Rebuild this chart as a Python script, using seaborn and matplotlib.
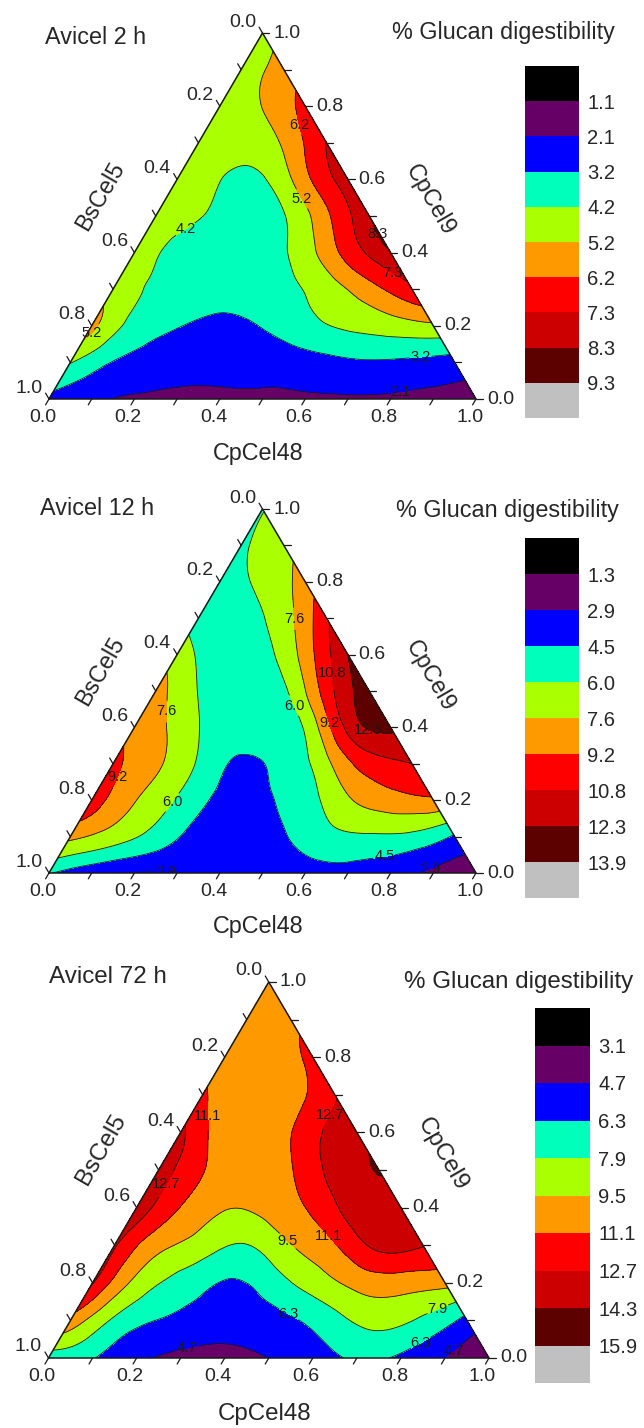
import numpy as np
import matplotlib
matplotlib.use("Agg")
import matplotlib.pyplot as plt
import matplotlib.tri as mtri
from matplotlib.colors import ListedColormap
import seaborn as sns

# --- DATA: % GLUCAN DIGESTIBILITY READ ON A 0.1 TERNARY GRID --- #
# one row per CpCel9 fraction (0.0 at the bottom edge ... 1.0 at the apex),
# inside a row the CpCel48 fraction runs 0.0, 0.1, ... ; BsCel5 = 1 - CpCel48 - CpCel9
avicel_2h = [
    [2.9, 2.3, 2.0, 1.85, 1.9, 1.95, 2.0, 2.0, 1.95, 1.8, 1.5],
    [4.25, 3.15, 2.7, 2.5, 2.5, 2.6, 2.9, 3.1, 3.0, 2.8],
    [5.5, 3.85, 3.25, 3.0, 3.25, 3.9, 4.35, 4.7, 5.0],
    [4.75, 4.05, 3.6, 3.5, 3.9, 4.7, 5.8, 7.0],
    [4.5, 4.0, 3.6, 3.75, 4.75, 6.6, 8.22],
    [4.6, 4.25, 3.8, 4.15, 6.0, 8.2],
    [4.6, 4.22, 4.12, 5.9, 7.9],
    [4.75, 4.6, 5.35, 7.35],
    [4.8, 5.22, 6.6],
    [4.8, 5.6],
    [4.9],
]

avicel_12h = [
    [4.6, 3.5, 2.85, 2.88, 3.3, 3.8, 3.9, 3.95, 3.5, 2.6, 2.3],
    [8.0, 6.8, 5.4, 3.9, 3.6, 4.4, 5.5, 5.8, 5.6, 4.3],
    [10.0, 7.7, 5.85, 4.2, 4.3, 5.3, 7.4, 8.5, 8.9],
    [9.6, 7.9, 5.8, 4.3, 4.9, 7.2, 10.0, 10.8],
    [8.8, 7.1, 5.3, 5.1, 6.2, 11.2, 12.6],
    [8.3, 5.95, 5.0, 5.75, 10.0, 12.9],
    [6.8, 5.3, 5.5, 8.3, 12.3],
    [5.6, 5.5, 6.9, 10.5],
    [5.65, 6.3, 8.4],
    [5.8, 7.1],
    [5.9],
]

avicel_72h = [
    [7.0, 6.4, 5.0, 4.3, 4.1, 4.72, 5.6, 6.5, 6.0, 4.65, 3.5],
    [10.5, 7.6, 6.25, 5.6, 5.5, 6.1, 7.4, 8.4, 7.6, 5.8],
    [12.8, 9.0, 7.3, 6.2, 7.0, 8.6, 10.0, 10.3, 10.0],
    [12.9, 10.0, 8.7, 7.85, 9.45, 11.0, 13.1, 12.8],
    [13.8, 11.05, 9.6, 10.0, 11.4, 13.6, 14.1],
    [13.6, 11.2, 10.1, 11.0, 13.3, 14.32],
    [13.1, 10.3, 10.2, 12.2, 14.0],
    [11.3, 10.2, 10.5, 12.5],
    [10.6, 10.4, 11.5],
    [10.3, 10.8],
    [10.3],
]

levels_2h = [1.1, 2.1, 3.2, 4.2, 5.2, 6.2, 7.3, 8.3, 9.3]
levels_12h = [1.3, 2.9, 4.5, 6.0, 7.6, 9.2, 10.8, 12.3, 13.9]
levels_72h = [3.1, 4.7, 6.3, 7.9, 9.5, 11.1, 12.7, 14.3, 15.9]

panel_titles = ["Avicel 2 h", "Avicel 12 h", "Avicel 72 h"]
tick_values = [0.0, 0.2, 0.4, 0.6, 0.8, 1.0]

band_colors = ["#000000", "#660066", "#0000ff", "#00ffbb", "#aaff00",
               "#ff9900", "#ff0000", "#cc0000", "#5c0000", "#c0c0c0"]

# --- LAYOUT IN PIXELS (figure is 644 x 1428) --- #
W, H = 644, 1428
layout = [
    dict(tri=(49, 476, 33, 399), cbar=(525, 579, 66, 418), title=(45, 38), ctitle=(392, 32), fs=16.8),
    dict(tri=(49, 476, 509, 873), cbar=(525, 579, 538, 898), title=(40, 508), ctitle=(396, 510), fs=16.8),
    dict(tri=(48.5, 489, 982, 1358), cbar=(535, 590, 1008, 1383), title=(49, 977), ctitle=(404, 982), fs=17.4),
]

SQ = np.sqrt(3) / 2


def grid_points(rows):
    c48, c9, z = [], [], []
    for i, row in enumerate(rows):
        for j, v in enumerate(row):
            c48.append(j / 10)
            c9.append(i / 10)
            z.append(v)
    c48 = np.array(c48)
    c9 = np.array(c9)
    return c48 + c9 / 2, c9 * SQ, np.array(z)


def draw_frame(ax):
    ax.plot([0, 1, 0.5, 0], [0, 0, SQ, 0], color="k", lw=1.1, clip_on=False, zorder=6)
    tl = 0.016
    for t in np.round(np.arange(0, 1.01, 0.1), 1):
        # bottom axis - CpCel48
        ax.plot([t, t - 0.5 * tl], [0, -SQ * tl], color="k", lw=0.9, clip_on=False)
        # right axis - CpCel9
        rx, ry = 1 - t / 2, t * SQ
        ax.plot([rx, rx + tl], [ry, ry], color="k", lw=0.9, clip_on=False)
        # left axis - BsCel5
        lx, ly = (1 - t) / 2, (1 - t) * SQ
        ax.plot([lx, lx - 0.5 * tl], [ly, ly + SQ * tl], color="k", lw=0.9, clip_on=False)

    for t in tick_values:
        lab = f"{t:.1f}"
        ax.annotate(lab, (t - 0.5 * tl, -SQ * tl), xytext=(-3, -4), textcoords="offset pixels",
                    ha="center", va="top", fontsize=14, annotation_clip=False)
        ax.annotate(lab, (1 - t / 2 + tl, t * SQ), xytext=(4, 0), textcoords="offset pixels",
                    ha="left", va="center", fontsize=14, annotation_clip=False)
        ax.annotate(lab, ((1 - t) / 2 - 0.5 * tl, (1 - t) * SQ + SQ * tl), xytext=(-3, 5),
                    textcoords="offset pixels", ha="right", va="center", fontsize=14,
                    annotation_clip=False)


def draw_panel(fig, rows, levels, title, lay):
    x0, x1, ya, yb = lay["tri"]
    ax = fig.add_axes([x0 / W, 1 - yb / H, (x1 - x0) / W, (yb - ya) / H])
    ax.set_xlim(0, 1)
    ax.set_ylim(0, SQ)
    ax.set_axis_off()

    # --- TERNARY CONTOURS --- #
    x, y, z = grid_points(rows)
    triang = mtri.Triangulation(x, y)
    refiner = mtri.UniformTriRefiner(triang)
    tri_r, z_r = refiner.refine_field(z, subdiv=4)
    fill_levels = [-1000] + levels + [1000]
    ax.tricontourf(tri_r, z_r, levels=fill_levels, colors=band_colors, zorder=1)
    cs = ax.tricontour(tri_r, z_r, levels=levels, colors="k", linewidths=0.6, zorder=2)
    labels = ax.clabel(cs, fmt="%.1f", fontsize=10.5, inline=True, inline_spacing=1)
    for lb in labels:
        lb.set_rotation(0)

    draw_frame(ax)

    # --- AXIS TITLES --- #
    ax.text(0.12, 0.48, "BsCel5", rotation=60, ha="center", va="center", fontsize=lay["fs"])
    ax.text(0.893, 0.47, "CpCel9", rotation=-60, ha="center", va="center", fontsize=lay["fs"])
    ax.text(0.49, -0.128, "CpCel48", ha="center", va="center", fontsize=lay["fs"], clip_on=False)

    fig.text(lay["title"][0] / W, 1 - lay["title"][1] / H, title, ha="left", va="center",
             fontsize=lay["fs"])
    fig.text(lay["ctitle"][0] / W, 1 - lay["ctitle"][1] / H, "% Glucan digestibility",
             ha="left", va="center", fontsize=lay["fs"])

    # --- COLOUR SCALE --- #
    c0, c1, ct, cb = lay["cbar"]
    cax = fig.add_axes([c0 / W, 1 - cb / H, (c1 - c0) / W, (cb - ct) / H])
    sns.heatmap(np.arange(len(band_colors)).reshape(-1, 1), cmap=ListedColormap(band_colors),
                cbar=False, ax=cax, xticklabels=False, yticklabels=False)
    cax.set_yticks(np.arange(1, len(levels) + 1))
    cax.set_yticklabels([f"{v:.1f}" for v in levels], fontsize=14.5, rotation=0)
    cax.yaxis.tick_right()
    cax.tick_params(axis="y", length=0, pad=6, right=False, labelright=True, left=False, labelleft=False)
    cax.set_xticks([])


def main():
    sns.set_theme(style="white")
    plt.rcParams["font.family"] = ["Liberation Sans", "DejaVu Sans"]

    fig = plt.figure(figsize=(W / 100, H / 100), dpi=100)
    data = [avicel_2h, avicel_12h, avicel_72h]
    lvls = [levels_2h, levels_12h, levels_72h]
    for rows, levels, title, lay in zip(data, lvls, panel_titles, layout):
        draw_panel(fig, rows, levels, title, lay)

    fig.savefig("out.png", dpi=100, facecolor="white")


if __name__ == "__main__":
    main()
